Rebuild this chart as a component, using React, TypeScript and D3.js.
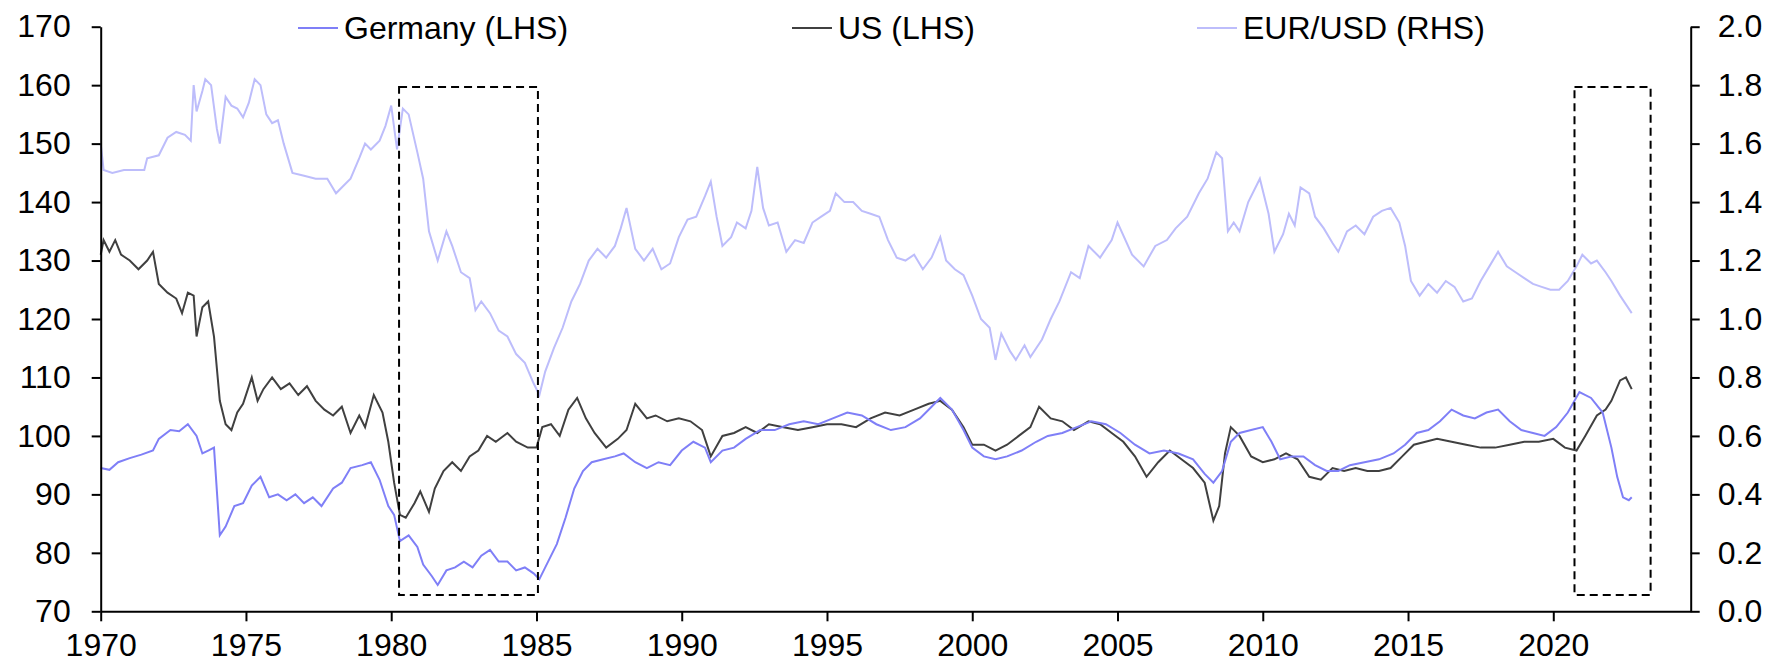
import React, { useEffect, useRef } from "react";
import * as d3 from "d3";

// [year, value] readings
const germany: [number, number][] = [
  [1970.0, 94.5], [1970.3, 94.2], [1970.6, 95.5], [1971.0, 96.2], [1971.4, 96.8], [1971.8, 97.5],
  [1972.0, 99.5], [1972.4, 101.0], [1972.7, 100.8], [1973.0, 102.0], [1973.3, 100.0], [1973.5, 97.0],
  [1973.7, 97.5], [1973.9, 98.0], [1974.1, 83.0], [1974.3, 84.5], [1974.6, 88.0], [1974.9, 88.5],
  [1975.2, 91.5], [1975.5, 93.0], [1975.8, 89.5], [1976.1, 90.0], [1976.4, 89.0], [1976.7, 90.0],
  [1977.0, 88.5], [1977.3, 89.5], [1977.6, 88.0], [1978.0, 91.0], [1978.3, 92.0], [1978.6, 94.5],
  [1979.0, 95.0], [1979.3, 95.5], [1979.6, 92.5], [1979.9, 88.0], [1980.1, 86.5], [1980.3, 82.0],
  [1980.6, 83.0], [1980.9, 81.0], [1981.1, 78.0], [1981.4, 76.0], [1981.6, 74.5], [1981.9, 77.0],
  [1982.2, 77.5], [1982.5, 78.5], [1982.8, 77.5], [1983.1, 79.5], [1983.4, 80.5], [1983.7, 78.5],
  [1984.0, 78.5], [1984.3, 77.0], [1984.6, 77.5], [1984.9, 76.5], [1985.1, 75.5], [1985.4, 78.5],
  [1985.7, 81.5], [1986.0, 86.0], [1986.3, 91.0], [1986.6, 94.0], [1986.9, 95.5], [1987.3, 96.0],
  [1987.7, 96.5], [1988.0, 97.0], [1988.4, 95.5], [1988.8, 94.5], [1989.2, 95.5], [1989.6, 95.0],
  [1990.0, 97.5], [1990.4, 99.0], [1990.8, 98.0], [1991.0, 95.5], [1991.4, 97.5], [1991.8, 98.0],
  [1992.2, 99.5], [1992.7, 101.0], [1993.2, 101.0], [1993.7, 102.0], [1994.2, 102.5], [1994.7, 102.0],
  [1995.2, 103.0], [1995.7, 104.0], [1996.2, 103.5], [1996.7, 102.0], [1997.2, 101.0], [1997.7, 101.5],
  [1998.2, 103.0], [1998.6, 105.0], [1998.9, 106.5], [1999.3, 104.5], [1999.7, 101.0], [2000.0, 98.0],
  [2000.4, 96.5], [2000.8, 96.0], [2001.2, 96.5], [2001.7, 97.5], [2002.2, 99.0], [2002.6, 100.0],
  [2003.1, 100.5], [2003.6, 101.5], [2004.1, 102.5], [2004.6, 102.0], [2005.1, 100.5], [2005.6, 98.5],
  [2006.1, 97.0], [2006.6, 97.5], [2007.1, 97.0], [2007.6, 96.0], [2008.0, 93.5], [2008.3, 92.0],
  [2008.6, 94.0], [2008.9, 99.0], [2009.2, 100.5], [2009.6, 101.0], [2010.0, 101.5], [2010.3, 99.0],
  [2010.6, 96.0], [2011.0, 96.5], [2011.4, 96.5], [2011.8, 95.0], [2012.2, 94.0], [2012.6, 94.0],
  [2013.0, 95.0], [2013.5, 95.5], [2014.0, 96.0], [2014.5, 97.0], [2014.9, 98.5], [2015.3, 100.5],
  [2015.7, 101.0], [2016.1, 102.5], [2016.5, 104.5], [2016.9, 103.5], [2017.3, 103.0], [2017.7, 104.0],
  [2018.1, 104.5], [2018.5, 102.5], [2018.9, 101.0], [2019.3, 100.5], [2019.7, 100.0], [2020.1, 101.5],
  [2020.5, 104.0], [2020.9, 107.5], [2021.3, 106.5], [2021.7, 104.0], [2022.0, 98.0], [2022.2, 93.0],
  [2022.4, 89.5], [2022.6, 89.0], [2022.7, 89.5],
];

const us: [number, number][] = [
  [1970.0, 131.0], [1970.1, 133.5], [1970.3, 131.5], [1970.5, 133.5], [1970.7, 131.0], [1971.0, 130.0],
  [1971.3, 128.5], [1971.6, 130.0], [1971.8, 131.5], [1972.0, 126.0], [1972.3, 124.5], [1972.6, 123.5],
  [1972.8, 121.0], [1973.0, 124.5], [1973.2, 124.0], [1973.3, 117.0], [1973.5, 122.0], [1973.7, 123.0],
  [1973.9, 117.0], [1974.1, 106.0], [1974.3, 102.0], [1974.5, 101.0], [1974.7, 104.0], [1974.9, 105.5],
  [1975.2, 110.0], [1975.4, 106.0], [1975.6, 108.0], [1975.9, 110.0], [1976.2, 108.0], [1976.5, 109.0],
  [1976.8, 107.0], [1977.1, 108.5], [1977.4, 106.0], [1977.7, 104.5], [1978.0, 103.5], [1978.3, 105.0],
  [1978.6, 100.5], [1978.9, 103.5], [1979.1, 101.5], [1979.4, 107.0], [1979.7, 104.0], [1979.9, 99.0],
  [1980.1, 92.0], [1980.3, 86.5], [1980.5, 86.0], [1980.8, 88.5], [1981.0, 90.5], [1981.3, 87.0],
  [1981.5, 91.0], [1981.8, 94.0], [1982.1, 95.5], [1982.4, 94.0], [1982.7, 96.5], [1983.0, 97.5],
  [1983.3, 100.0], [1983.6, 99.0], [1984.0, 100.5], [1984.3, 99.0], [1984.7, 98.0], [1985.0, 98.0],
  [1985.2, 101.5], [1985.5, 102.0], [1985.8, 100.0], [1986.1, 104.5], [1986.4, 106.5], [1986.7, 103.0],
  [1987.0, 100.5], [1987.4, 98.0], [1987.8, 99.5], [1988.1, 101.0], [1988.4, 105.5], [1988.8, 103.0],
  [1989.1, 103.5], [1989.5, 102.5], [1989.9, 103.0], [1990.3, 102.5], [1990.7, 101.0], [1991.0, 96.5],
  [1991.4, 100.0], [1991.8, 100.5], [1992.2, 101.5], [1992.6, 100.5], [1993.0, 102.0], [1993.5, 101.5],
  [1994.0, 101.0], [1994.5, 101.5], [1995.0, 102.0], [1995.5, 102.0], [1996.0, 101.5], [1996.5, 103.0],
  [1997.0, 104.0], [1997.5, 103.5], [1998.0, 104.5], [1998.5, 105.5], [1998.9, 106.0], [1999.3, 104.5],
  [1999.7, 101.5], [2000.0, 98.5], [2000.4, 98.5], [2000.8, 97.5], [2001.2, 98.5], [2001.6, 100.0],
  [2002.0, 101.5], [2002.3, 105.0], [2002.7, 103.0], [2003.1, 102.5], [2003.5, 101.0], [2004.0, 102.5],
  [2004.4, 102.0], [2004.8, 100.5], [2005.2, 99.0], [2005.6, 96.5], [2006.0, 93.0], [2006.4, 95.5],
  [2006.8, 97.5], [2007.2, 96.0], [2007.6, 94.5], [2008.0, 92.0], [2008.3, 85.5], [2008.5, 88.0],
  [2008.7, 97.0], [2008.9, 101.5], [2009.2, 100.0], [2009.6, 96.5], [2010.0, 95.5], [2010.4, 96.0],
  [2010.8, 97.0], [2011.2, 96.0], [2011.6, 93.0], [2012.0, 92.5], [2012.4, 94.5], [2012.8, 94.0],
  [2013.2, 94.5], [2013.6, 94.0], [2014.0, 94.0], [2014.4, 94.5], [2014.8, 96.5], [2015.2, 98.5],
  [2015.6, 99.0], [2016.0, 99.5], [2016.5, 99.0], [2017.0, 98.5], [2017.5, 98.0], [2018.0, 98.0],
  [2018.5, 98.5], [2019.0, 99.0], [2019.5, 99.0], [2020.0, 99.5], [2020.4, 98.0], [2020.8, 97.5],
  [2021.1, 100.0], [2021.5, 103.5], [2021.8, 104.5], [2022.0, 106.0], [2022.3, 109.5], [2022.5, 110.0],
  [2022.7, 108.0],
];

const eurusd: [number, number][] = [
  [1970.0, 1.60], [1970.1, 1.51], [1970.4, 1.50], [1970.8, 1.51], [1971.2, 1.51], [1971.5, 1.51],
  [1971.6, 1.55], [1972.0, 1.56], [1972.3, 1.62], [1972.6, 1.64], [1972.9, 1.63], [1973.1, 1.61],
  [1973.2, 1.80], [1973.3, 1.71], [1973.5, 1.78], [1973.6, 1.82], [1973.8, 1.80], [1974.0, 1.65],
  [1974.1, 1.60], [1974.3, 1.76], [1974.5, 1.73], [1974.7, 1.72], [1974.9, 1.69], [1975.1, 1.74],
  [1975.3, 1.82], [1975.5, 1.80], [1975.7, 1.70], [1975.9, 1.67], [1976.1, 1.68], [1976.3, 1.60],
  [1976.6, 1.50], [1977.0, 1.49], [1977.4, 1.48], [1977.8, 1.48], [1978.1, 1.43], [1978.4, 1.46],
  [1978.6, 1.48], [1978.9, 1.55], [1979.1, 1.60], [1979.3, 1.58], [1979.6, 1.61], [1979.8, 1.66],
  [1980.0, 1.73], [1980.2, 1.58], [1980.4, 1.72], [1980.6, 1.70], [1980.9, 1.57], [1981.1, 1.48],
  [1981.3, 1.30], [1981.6, 1.20], [1981.9, 1.30], [1982.1, 1.25], [1982.4, 1.16], [1982.7, 1.14],
  [1982.9, 1.03], [1983.1, 1.06], [1983.4, 1.02], [1983.7, 0.96], [1984.0, 0.94], [1984.3, 0.88],
  [1984.6, 0.85], [1984.9, 0.78], [1985.1, 0.74], [1985.3, 0.82], [1985.6, 0.90], [1985.9, 0.97],
  [1986.2, 1.06], [1986.5, 1.12], [1986.8, 1.20], [1987.1, 1.24], [1987.4, 1.21], [1987.7, 1.25],
  [1987.9, 1.31], [1988.1, 1.38], [1988.4, 1.24], [1988.7, 1.20], [1989.0, 1.24], [1989.3, 1.17],
  [1989.6, 1.19], [1989.9, 1.28], [1990.2, 1.34], [1990.5, 1.35], [1990.8, 1.42], [1991.0, 1.47],
  [1991.2, 1.35], [1991.4, 1.25], [1991.7, 1.28], [1991.9, 1.33], [1992.2, 1.31], [1992.4, 1.37],
  [1992.6, 1.52], [1992.8, 1.38], [1993.0, 1.32], [1993.3, 1.33], [1993.6, 1.23], [1993.9, 1.27],
  [1994.2, 1.26], [1994.5, 1.33], [1994.8, 1.35], [1995.1, 1.37], [1995.3, 1.43], [1995.6, 1.40],
  [1995.9, 1.40], [1996.2, 1.37], [1996.5, 1.36], [1996.8, 1.35], [1997.1, 1.27], [1997.4, 1.21],
  [1997.7, 1.20], [1998.0, 1.22], [1998.3, 1.17], [1998.6, 1.21], [1998.9, 1.28], [1999.1, 1.20],
  [1999.4, 1.17], [1999.7, 1.15], [2000.0, 1.08], [2000.3, 1.00], [2000.6, 0.97], [2000.8, 0.86],
  [2001.0, 0.95], [2001.3, 0.89], [2001.5, 0.86], [2001.8, 0.91], [2002.0, 0.87], [2002.4, 0.93],
  [2002.7, 1.00], [2003.0, 1.06], [2003.4, 1.16], [2003.7, 1.14], [2004.0, 1.25], [2004.4, 1.21],
  [2004.8, 1.27], [2005.0, 1.33], [2005.5, 1.22], [2005.9, 1.18], [2006.3, 1.25], [2006.7, 1.27],
  [2007.0, 1.31], [2007.4, 1.35], [2007.8, 1.43], [2008.1, 1.48], [2008.4, 1.57], [2008.6, 1.55],
  [2008.8, 1.30], [2009.0, 1.33], [2009.2, 1.30], [2009.5, 1.40], [2009.9, 1.48], [2010.2, 1.36],
  [2010.4, 1.23], [2010.7, 1.29], [2010.9, 1.36], [2011.1, 1.32], [2011.3, 1.45], [2011.6, 1.43],
  [2011.8, 1.35], [2012.1, 1.31], [2012.4, 1.26], [2012.6, 1.23], [2012.9, 1.30], [2013.2, 1.32],
  [2013.5, 1.29], [2013.8, 1.35], [2014.1, 1.37], [2014.4, 1.38], [2014.7, 1.33], [2014.9, 1.25],
  [2015.1, 1.13], [2015.4, 1.08], [2015.7, 1.12], [2016.0, 1.09], [2016.3, 1.13], [2016.6, 1.11],
  [2016.9, 1.06], [2017.2, 1.07], [2017.5, 1.13], [2017.8, 1.18], [2018.1, 1.23], [2018.4, 1.18],
  [2018.7, 1.16], [2019.0, 1.14], [2019.3, 1.12], [2019.6, 1.11], [2019.9, 1.10], [2020.2, 1.10],
  [2020.5, 1.13], [2020.8, 1.18], [2021.0, 1.22], [2021.3, 1.19], [2021.5, 1.20], [2021.8, 1.16],
  [2022.0, 1.13], [2022.3, 1.08], [2022.5, 1.05], [2022.7, 1.02],
];

const leftTicks = [70, 80, 90, 100, 110, 120, 130, 140, 150, 160, 170];
const rightTicks = [0, 0.2, 0.4, 0.6, 0.8, 1.0, 1.2, 1.4, 1.6, 1.8, 2.0];
const yearTicks = [1970, 1975, 1980, 1985, 1990, 1995, 2000, 2005, 2010, 2015, 2020];

// dashed boxes: [startYear, endYear, top (LHS), bottom (LHS)]
const boxes: [number, number, number, number][] = [
  [1980.27, 1985.05, 159.7, 72.8],
  [2020.73, 2023.35, 159.7, 72.8],
];

const legend = [
  { label: "Germany (LHS)", color: "#7f7ff7", x: 298 },
  { label: "US (LHS)", color: "#404040", x: 792 },
  { label: "EUR/USD (RHS)", color: "#bdbdfb", x: 1197 },
];

export default function App() {
  const ref = useRef<SVGSVGElement>(null);

  useEffect(() => {
    const svg = d3.select(ref.current);
    svg.selectAll("*").remove();

    const width = 1784;
    const height = 668;
    const left = 100.7;
    const right = 1690.7;
    const top = 26.7;
    const bottom = 611.3;
    const font = "'Liberation Sans', Arial, sans-serif";

    const x = d3.scaleLinear().domain([1970, 2024.73]).range([left, right]);
    const y = d3.scaleLinear().domain([70, 170]).range([bottom, top]);
    const y2 = d3.scaleLinear().domain([0, 2]).range([bottom, top]);

    svg.attr("width", width).attr("height", height);

    const line = d3
      .line<[number, number]>()
      .x((d) => x(d[0]))
      .y((d) => y(d[1]));
    const line2 = d3
      .line<[number, number]>()
      .x((d) => x(d[0]))
      .y((d) => y2(d[1]));

    svg
      .append("path")
      .datum(eurusd)
      .attr("fill", "none")
      .attr("stroke", "#bdbdfb")
      .attr("stroke-width", 2)
      .attr("d", line2);

    svg
      .append("path")
      .datum(us)
      .attr("fill", "none")
      .attr("stroke", "#404040")
      .attr("stroke-width", 2)
      .attr("d", line);

    svg
      .append("path")
      .datum(germany)
      .attr("fill", "none")
      .attr("stroke", "#7f7ff7")
      .attr("stroke-width", 2)
      .attr("d", line);

    svg
      .selectAll("rect.box")
      .data(boxes)
      .join("rect")
      .attr("class", "box")
      .attr("x", (d) => x(d[0]))
      .attr("y", (d) => y(d[2]))
      .attr("width", (d) => x(d[1]) - x(d[0]))
      .attr("height", (d) => y(d[3]) - y(d[2]))
      .attr("fill", "none")
      .attr("stroke", "#000")
      .attr("stroke-width", 2)
      .attr("stroke-dasharray", "8,5");

    const styleAxis = (g) => {
      g.select(".domain").attr("stroke", "#000").attr("stroke-width", 2);
      g.selectAll(".tick line").attr("stroke", "#000").attr("stroke-width", 2);
      g.selectAll(".tick text")
        .attr("fill", "#000")
        .style("font-family", font)
        .style("font-size", "32px");
    };

    svg
      .append("g")
      .attr("transform", "translate(0," + bottom + ")")
      .call(
        d3
          .axisBottom(x)
          .tickValues(yearTicks)
          .tickFormat(d3.format("d"))
          .tickSize(10)
          .tickSizeOuter(0)
          .tickPadding(12)
      )
      .call(styleAxis);

    svg
      .append("g")
      .attr("transform", "translate(" + left + ",0)")
      .call(
        d3
          .axisLeft(y)
          .tickValues(leftTicks)
          .tickFormat(d3.format("d"))
          .tickSize(9)
          .tickSizeOuter(0)
          .tickPadding(21)
      )
      .call(styleAxis);

    svg
      .append("g")
      .attr("transform", "translate(" + right + ",0)")
      .call(
        d3
          .axisRight(y2)
          .tickValues(rightTicks)
          .tickFormat(d3.format(".1f"))
          .tickSize(9)
          .tickSizeOuter(0)
          .tickPadding(18)
      )
      .call(styleAxis);

    const lg = svg
      .append("g")
      .selectAll("g")
      .data(legend)
      .join("g")
      .attr("transform", (d) => "translate(" + d.x + ",28)");
    lg.append("line")
      .attr("x1", 0)
      .attr("x2", 40)
      .attr("stroke", (d) => d.color)
      .attr("stroke-width", 2);
    lg.append("text")
      .attr("x", 46)
      .attr("dy", "0.35em")
      .style("font-family", font)
      .style("font-size", "32px")
      .attr("fill", "#000")
      .text((d) => d.label);
  }, []);

  return (
    <svg
      ref={ref}
      style={{ position: "absolute", left: 0, top: 0, background: "#fff" }}
    />
  );
}
